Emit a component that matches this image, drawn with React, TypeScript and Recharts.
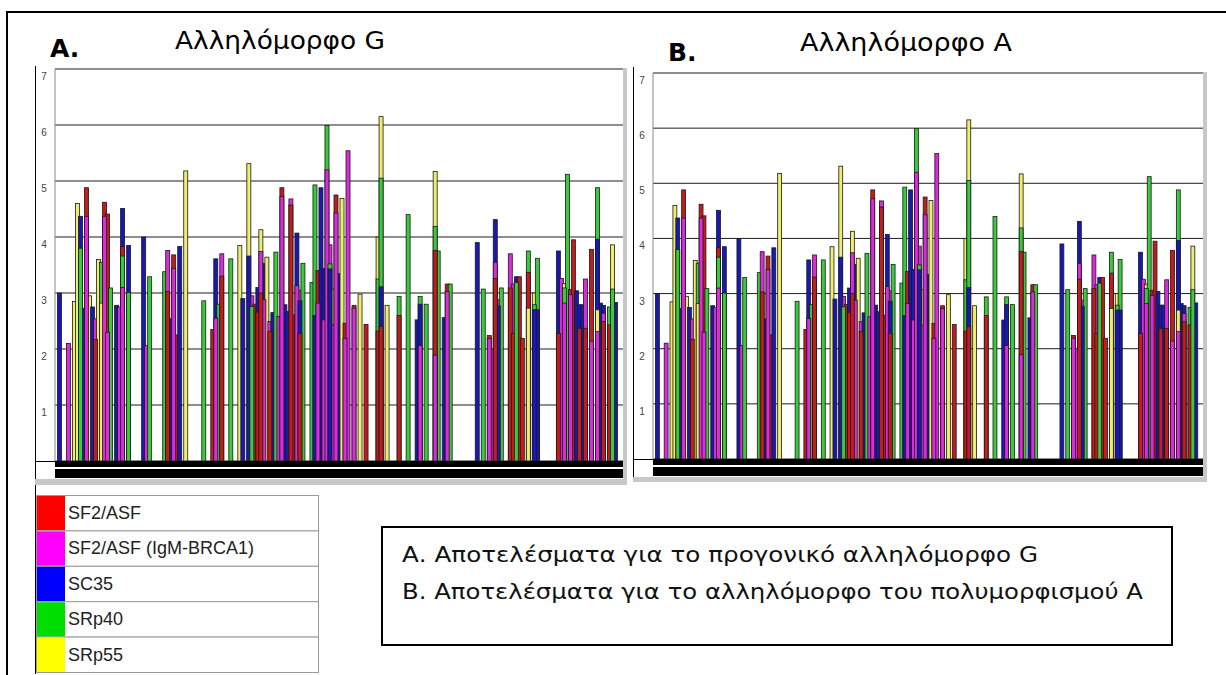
import { BarChart, Bar, XAxis, YAxis, CartesianGrid, Cell } from "recharts"

// ESE scores per position, [position, score]
const POSITIONS = 189
const Y_TICKS = [1, 2, 3, 4, 5, 6, 7]
const LAYERS = [0, 1, 2, 3, 4]

const SF2_ASF: [number, number][] = [
  [10, 4.88], [13, 2.17], [16, 4.62], [17, 4.41], [22, 3.83], [37, 3.03], [39, 3.68], [40, 2.25],
  [52, 2.35], [55, 3.3], [66, 2.8], [67, 2.66], [68, 3.0], [71, 2.31], [75, 4.88], [78, 4.57],
  [79, 2.61], [81, 2.28], [87, 3.4], [93, 4.75], [96, 2.46], [99, 2.78], [103, 2.44], [107, 2.32],
  [108, 2.4], [114, 2.6], [126, 3.76], [130, 3.16], [144, 2.24], [146, 3.26], [151, 3.09], [152, 2.28],
  [154, 3.29], [155, 2.19], [157, 3.37], [167, 2.28], [171, 3.06], [172, 3.95], [174, 2.37], [176, 2.37],
  [178, 3.78], [182, 2.49], [184, 2.43],
]

const SF2_ASF_IGM: [number, number][] = [
  [4, 2.1], [10, 4.37], [13, 2.54], [16, 4.37], [17, 2.3], [21, 2.75], [22, 3.1], [30, 2.06],
  [37, 3.76], [39, 3.44], [53, 2.55], [55, 3.7], [65, 2.95], [68, 3.74], [69, 2.88], [71, 2.49],
  [74, 2.58], [75, 4.72], [78, 4.68], [80, 3.13], [81, 3.05], [87, 2.82], [89, 2.52], [90, 5.2],
  [91, 3.86], [92, 2.43], [93, 4.43], [96, 2.19], [97, 5.54], [99, 2.73], [121, 2.06], [126, 1.89],
  [130, 3.03], [144, 2.19], [145, 2.01], [146, 3.55], [147, 2.88], [151, 3.7], [152, 3.16], [168, 3.26],
  [169, 2.82], [171, 2.97], [176, 3.25], [178, 2.14], [180, 2.31], [182, 2.64],
]

const SC35: [number, number][] = [
  [1, 3.0], [8, 4.37], [9, 2.73], [12, 2.75], [20, 2.78], [22, 4.51], [24, 3.85], [29, 4.0],
  [38, 2.54], [41, 3.83], [53, 3.61], [62, 2.9], [64, 3.66], [67, 3.1], [69, 3.53], [72, 2.65],
  [76, 2.79], [77, 2.67], [80, 4.07], [81, 2.86], [86, 2.6], [88, 4.88], [89, 3.44], [91, 3.43],
  [94, 3.35], [108, 3.11], [120, 2.52], [121, 2.8], [129, 2.56], [140, 3.9], [146, 4.31], [147, 2.77],
  [153, 3.29], [159, 2.7], [160, 2.7], [167, 3.75], [173, 3.04], [174, 2.79], [175, 2.79], [180, 3.96],
  [181, 2.82], [182, 2.78], [186, 2.83],
]

const SRP40: [number, number][] = [
  [8, 3.8], [15, 3.55], [18, 3.09], [22, 3.66], [24, 3.01], [31, 3.29], [36, 3.38], [49, 2.86],
  [54, 2.8], [58, 3.61], [65, 2.76], [73, 3.73], [82, 3.53], [85, 3.19], [86, 4.93], [90, 5.99],
  [91, 3.52], [107, 3.25], [108, 5.05], [114, 2.94], [117, 4.4], [121, 2.94], [123, 2.8], [126, 4.19],
  [127, 3.75], [131, 3.16], [142, 3.07], [148, 3.09], [153, 3.19], [157, 3.75], [159, 2.79], [160, 3.62],
  [169, 3.09], [170, 5.12], [180, 4.88], [184, 2.75], [185, 3.07],
]

const SRP55: [number, number][] = [
  [6, 2.85], [7, 4.6], [11, 2.95], [14, 3.6], [15, 2.82], [43, 5.18], [61, 3.85], [64, 5.31],
  [68, 4.13], [70, 3.64], [92, 3.07], [95, 4.69], [101, 2.98], [107, 4.0], [108, 6.15], [110, 2.78],
  [126, 5.17], [157, 2.73], [159, 3.0], [169, 3.17], [180, 2.7], [185, 3.86],
]

const SERIES = [
  { name: "SF2/ASF", color: "#c41c1c", swatch: "#ff0000", scores: SF2_ASF },
  { name: "SF2/ASF (IgM-BRCA1)", color: "#dc2adc", swatch: "#ff00ff", scores: SF2_ASF_IGM },
  { name: "SC35", color: "#1818b4", swatch: "#0000ff", scores: SC35 },
  { name: "SRp40", color: "#3acb3a", swatch: "#00dd00", scores: SRP40 },
  { name: "SRp55", color: "#f0ec6c", swatch: "#ffff00", scores: SRP55 },
]

type Row = Record<string, number | string>

// tallest score goes in layer 0 so the shorter bars sit in front of it
function buildRows(): Row[] {
  const rows: Row[] = []
  for (let pos = 0; pos < POSITIONS; pos++) {
    const hits = SERIES.flatMap((s) =>
      s.scores.filter(([p]) => p === pos).map(([, v]) => ({ v, c: s.color }))
    ).sort((a, b) => b.v - a.v)
    const row: Row = { pos }
    hits.forEach((h, k) => {
      row[`v${k}`] = h.v
      row[`c${k}`] = h.c
    })
    rows.push(row)
  }
  return rows
}

const ROWS = buildRows()

const BarShape = (props: any) => {
  const { x, y, width, height, fill, barW } = props
  if (!height || height <= 0) return <g />
  return (
    <rect
      x={x + width / 2 - barW / 2}
      y={y}
      width={barW}
      height={height}
      fill={fill}
      stroke="#1a1a1a"
      strokeWidth={0.8}
    />
  )
}

const YTick = (props: any) => {
  const { x, y, payload } = props
  return (
    <text x={x - 11} y={y + 11} textAnchor="middle" fontSize={10} fill="#444" fontFamily="Liberation Sans, Arial">
      {payload.value}
    </text>
  )
}

function ScorePanel({ width, height, barW }: { width: number; height: number; barW: number }) {
  return (
    <BarChart
      width={width}
      height={height}
      data={ROWS}
      margin={{ top: 9, right: 0, bottom: 0, left: 0 }}
      barCategoryGap={0}
    >
      <CartesianGrid vertical={false} stroke="#1e1e1e" xAxisId={0} />
      {LAYERS.map((k) => (
        <XAxis key={k} xAxisId={k} dataKey="pos" type="category" hide />
      ))}
      <YAxis
        domain={[0, 7]}
        ticks={Y_TICKS}
        interval={0}
        width={20}
        axisLine={{ stroke: "#8a8a8a" }}
        tickLine={false}
        tickSize={0}
        tickMargin={0}
        tick={<YTick />}
      />
      {LAYERS.map((k) => (
        <Bar
          key={k}
          xAxisId={k}
          dataKey={`v${k}`}
          isAnimationActive={false}
          shape={(p: any) => <BarShape {...p} barW={barW} />}
        >
          {ROWS.map((r, i) => (
            <Cell key={i} fill={(r[`c${k}`] as string) || "none"} />
          ))}
        </Bar>
      ))}
    </BarChart>
  )
}

const box = (left: number, top: number, width: number, height: number, bg: string) => (
  <div style={{ position: "absolute", left, top, width, height, background: bg }} />
)

export default function App() {
  const rowH = 35.4
  return (
    <div style={{ position: "absolute", left: 0, top: 0, width: 1226, height: 675, background: "#fff", overflow: "hidden" }}>
      {/* outer frame */}
      {box(6, 11, 1220, 2, "#000")}
      {box(6, 11, 2, 664, "#000")}

      {/* panel A frame */}
      {box(35, 66, 1, 608, "#000")}
      {box(35, 461, 20, 1, "#000")}
      {box(55, 461, 568, 17, "#000")}
      {box(55, 467, 568, 2, "#fff")}
      {box(35, 479, 592, 6, "#c8c8c8")}
      {box(623, 68, 4, 417, "#c8c8c8")}

      {/* panel B frame */}
      {box(633, 67, 1, 415, "#000")}
      {box(633, 459, 20, 1, "#000")}
      {box(653, 459, 550, 17, "#000")}
      {box(653, 465, 550, 2, "#fff")}
      {box(633, 477, 574, 5, "#c8c8c8")}
      {box(1203, 72, 4, 410, "#c8c8c8")}

      <div style={{ position: "absolute", left: 35, top: 60 }}>
        <ScorePanel width={588} height={401} barW={4} />
      </div>
      <div style={{ position: "absolute", left: 633, top: 64 }}>
        <ScorePanel width={570} height={395} barW={3.9} />
      </div>

      <svg width={1226} height={675} style={{ position: "absolute", left: 0, top: 0, pointerEvents: "none" }}>
        <text x={50} y={57} fontSize={25} fontWeight="bold" fontFamily="DejaVu Sans">A.</text>
        <text x={175} y={49} fontSize={24} fontFamily="DejaVu Sans" textLength={210} lengthAdjust="spacingAndGlyphs">
          Αλληλόμορφο G
        </text>
        <text x={668} y={61} fontSize={25} fontWeight="bold" fontFamily="DejaVu Sans">B.</text>
        <text x={800} y={51} fontSize={24} fontFamily="DejaVu Sans" textLength={212} lengthAdjust="spacingAndGlyphs">
          Αλληλόμορφο A
        </text>

        {/* legend */}
        {SERIES.map((s, i) => (
          <g key={s.name}>
            <rect x={36.5} y={495.5 + i * rowH} width={282} height={rowH} fill="#fff" stroke="#9a9a9a" />
            <rect x={37} y={496 + i * rowH} width={28} height={rowH - 1} fill={s.swatch} />
            <text x={68} y={495 + i * rowH + 24} fontSize={18} fill="#222" fontFamily="Liberation Sans, Arial">
              {s.name}
            </text>
          </g>
        ))}

        {/* caption box */}
        <rect x={382} y={527} width={790} height={118} fill="none" stroke="#000" strokeWidth={2} />
        <text x={402} y={562} fontSize={21} fill="#111" fontFamily="DejaVu Sans" textLength={636} lengthAdjust="spacingAndGlyphs">
          Α. Αποτελέσματα για το προγονικό αλληλόμορφο G
        </text>
        <text x={402} y={599} fontSize={21} fill="#111" fontFamily="DejaVu Sans" textLength={741} lengthAdjust="spacingAndGlyphs">
          Β. Αποτελέσματα για το αλληλόμορφο του πολυμορφισμού A
        </text>
      </svg>
    </div>
  )
}
